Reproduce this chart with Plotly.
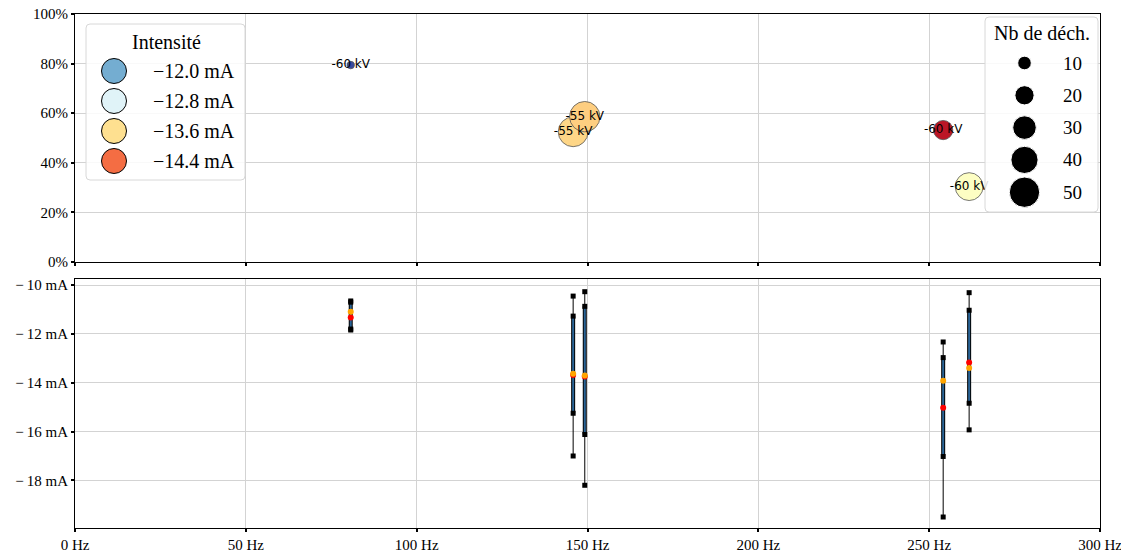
import plotly.graph_objects as go

# ---------------- data ----------------
freq_hz = [80.7, 145.8, 149.2, 254.1, 261.7]
ratio = [0.794, 0.525, 0.586, 0.532, 0.304]
n_samples = [3, 48, 50, 20, 42]
voltage_lbl = ["-60 kV", "-55 kV", "-55 kV", "-60 kV", "-60 kV"]

i_mean = [-11.33, -13.68, -13.74, -15.02, -13.17]
i_median = [-11.09, -13.63, -13.70, -13.92, -13.40]
i_min = [-11.84, -17.00, -18.20, -19.50, -15.93]
i_max = [-10.65, -10.45, -10.27, -12.33, -10.31]
i_qlow = [-11.80, -15.25, -16.12, -17.02, -14.84]
i_qhigh = [-10.70, -11.27, -10.87, -12.97, -11.03]

legend_intensity = [-12.0, -12.8, -13.6, -14.4]
legend_counts = [10, 20, 30, 40, 50]

x_ticks = [0, 50, 100, 150, 200, 250, 300]
x_ticktext = [f"{v} Hz" for v in x_ticks]
y2_ticks = [-10, -12, -14, -16, -18]
y2_ticktext = [f"\u2212\u2009{abs(v)} mA" for v in y2_ticks]
y1_ticks = [0, 0.2, 0.4, 0.6, 0.8, 1.0]

# ---------------- style ----------------
CMIN, CMAX = -15.2, -11.2
CSCALE = "RdYlBu"
K = 4.3                       # px diameter per sqrt(count)
SIZEREF = 2.0 / K ** 2        # plotly area mode: d = sqrt(2*n/sizeref)
SERIF = "Liberation Serif"
GRID = "#d3d3d3"
OFF = 8                       # page body margin compensation

fig = go.Figure()

# ---------- top panel: bubbles ----------
fig.add_trace(go.Scatter(
    x=freq_hz, y=ratio, mode="markers+text",
    text=voltage_lbl, textposition="middle center",
    textfont=dict(family="DejaVu Sans", size=12, color="black"),
    marker=dict(size=n_samples, sizemode="area", sizeref=SIZEREF, opacity=1,
                color=i_mean, colorscale=CSCALE, cmin=CMIN, cmax=CMAX,
                line=dict(color="#555555", width=0.8)),
    xaxis="x", yaxis="y", showlegend=False, hoverinfo="skip"))

# ---------- bottom panel: ranges ----------
def seg(xs, y0s, y1s):
    X, Y = [], []
    for x, a, b in zip(xs, y0s, y1s):
        X += [x, x, None]
        Y += [a, b, None]
    return X, Y

X, Y = seg(freq_hz, i_min, i_max)
fig.add_trace(go.Scatter(x=X, y=Y, mode="lines", line=dict(color="black", width=1),
                         xaxis="x2", yaxis="y2", showlegend=False, hoverinfo="skip"))
X, Y = seg(freq_hz, i_qlow, i_qhigh)
fig.add_trace(go.Scatter(x=X, y=Y, mode="lines", line=dict(color="black", width=4),
                         xaxis="x2", yaxis="y2", showlegend=False, hoverinfo="skip"))
fig.add_trace(go.Scatter(x=X, y=Y, mode="lines", line=dict(color="#2a6496", width=2),
                         xaxis="x2", yaxis="y2", showlegend=False, hoverinfo="skip"))
for arr in (i_min, i_max, i_qlow, i_qhigh):
    fig.add_trace(go.Scatter(x=freq_hz, y=arr, mode="markers",
                             marker=dict(symbol="square", size=5, color="black"),
                             xaxis="x2", yaxis="y2", showlegend=False, hoverinfo="skip"))
fig.add_trace(go.Scatter(x=freq_hz, y=i_mean, mode="markers",
                         marker=dict(size=6, color="#ff0000"),
                         xaxis="x2", yaxis="y2", showlegend=False, hoverinfo="skip"))
fig.add_trace(go.Scatter(x=freq_hz, y=i_median, mode="markers",
                         marker=dict(size=6, color="#ffa500"),
                         xaxis="x2", yaxis="y2", showlegend=False, hoverinfo="skip"))

# ---------- custom legends on a pixel overlay axis ----------
PX0, PX1, PY0, PY1 = 75, 1100, 14, 528

def rounded_box(x0, y0, x1, y1, r=4):
    return (f"M{x0+r},{y0} L{x1-r},{y0} Q{x1},{y0} {x1},{y0+r} L{x1},{y1-r} "
            f"Q{x1},{y1} {x1-r},{y1} L{x0+r},{y1} Q{x0},{y1} {x0},{y1-r} "
            f"L{x0},{y0+r} Q{x0},{y0} {x0+r},{y0} Z")

shapes = []
for (bx0, by0, bx1, by1) in [(86, 24, 245, 180), (985, 17, 1098, 212)]:
    shapes.append(dict(type="path", path=rounded_box(bx0, by0, bx1, by1),
                       xref="x3", yref="y3", layer="below",
                       fillcolor="rgba(255,255,255,0.85)",
                       line=dict(color="#d8d8d8", width=1)))

annotations = []
# Intensity legend
leg1_y = [71 + 30 * i for i in range(len(legend_intensity))]
fig.add_trace(go.Scatter(
    x=[114] * len(legend_intensity), y=leg1_y, mode="markers",
    marker=dict(size=25, opacity=1, color=legend_intensity, colorscale=CSCALE, cmin=CMIN, cmax=CMAX,
                line=dict(color="black", width=1)),
    xaxis="x3", yaxis="y3", showlegend=False, hoverinfo="skip"))
annotations.append(dict(x=166, y=42, xref="x3", yref="y3", text="Intensité", showarrow=False,
                        font=dict(family=SERIF, size=20, color="black"), xanchor="center", yanchor="middle"))
for v, yy in zip(legend_intensity, leg1_y):
    annotations.append(dict(x=151, y=yy, xref="x3", yref="y3",
                            text=f"\u2212{abs(v):.1f} mA", showarrow=False,
                            font=dict(family=SERIF, size=20, color="black"),
                            xanchor="left", yanchor="middle"))

# Count legend
leg2_y = [63 + 32.3 * i for i in range(len(legend_counts))]
fig.add_trace(go.Scatter(
    x=[1024.5] * len(legend_counts), y=leg2_y, mode="markers",
    marker=dict(size=legend_counts, sizemode="area", sizeref=SIZEREF, color="black", opacity=1),
    xaxis="x3", yaxis="y3", showlegend=False, hoverinfo="skip"))
annotations.append(dict(x=1041.5, y=33, xref="x3", yref="y3", text="Nb de déch.", showarrow=False,
                        font=dict(family=SERIF, size=20, color="black"), xanchor="center", yanchor="middle"))
for v, yy in zip(legend_counts, leg2_y):
    annotations.append(dict(x=1061, y=yy, xref="x3", yref="y3", text=str(v), showarrow=False,
                            font=dict(family=SERIF, size=19, color="black"),
                            xanchor="left", yanchor="middle"))

axis_common = dict(showline=True, mirror=True, linecolor="black", linewidth=1,
                   showgrid=True, gridcolor=GRID, gridwidth=1, zeroline=False,
                   ticks="outside", ticklen=3, tickwidth=2, tickcolor="black",
                   automargin=False, ticklabeloverflow="allow",
                   tickfont=dict(family=SERIF, size=15, color="black"))

top_dom = [(PY1 - 262) / (PY1 - PY0), 1.0]
bot_dom = [0.0, (PY1 - 279) / (PY1 - PY0)]

W, H = 1129, 552
fig.update_layout(
    width=W, height=H,
    margin=dict(l=PX0 - OFF, r=W - (PX1 - OFF), t=PY0 - OFF, b=H - (PY1 - OFF)),
    paper_bgcolor="white", plot_bgcolor="rgba(0,0,0,0)",
    showlegend=False,
    xaxis=dict(domain=[0, 1], anchor="y", range=[0, 300], tickvals=x_ticks,
               showticklabels=False, **axis_common),
    yaxis=dict(domain=top_dom, anchor="x", range=[0, 1], tickvals=y1_ticks,
               tickformat=".0%", **axis_common),
    xaxis2=dict(domain=[0, 1], anchor="y2", range=[0, 300], matches="x",
                tickvals=x_ticks, ticktext=x_ticktext, **axis_common),
    yaxis2=dict(domain=bot_dom, anchor="x2", range=[-19.95, -9.75],
                tickvals=y2_ticks, ticktext=y2_ticktext, **axis_common),
    xaxis3=dict(domain=[0, 1], anchor="y3", range=[PX0, PX1], visible=False, fixedrange=True),
    yaxis3=dict(domain=[0, 1], anchor="x3", range=[PY1, PY0], visible=False, fixedrange=True),
    shapes=shapes, annotations=annotations,
)

fig.write_html("out.html")
